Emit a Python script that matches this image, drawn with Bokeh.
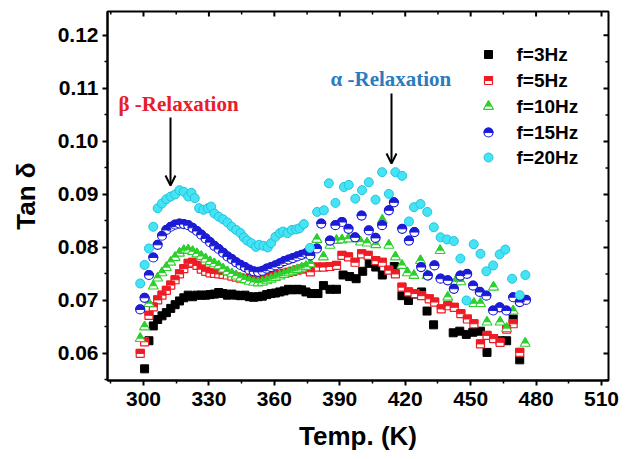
import math
from bokeh.plotting import figure
from bokeh.models import Range1d, FixedTicker, NumeralTickFormatter, Label, Arrow, OpenHead
from bokeh.core.properties import value
from bokeh.embed import file_html
from bokeh.resources import INLINE

# ---------------- data ----------------
x_ticks = [300, 330, 360, 390, 420, 450, 480, 510]
x_minor = [285, 315, 345, 375, 405, 435, 465, 495]
y_ticks = [0.06, 0.07, 0.08, 0.09, 0.10, 0.11, 0.12]
y_minor = [0.055, 0.065, 0.075, 0.085, 0.095, 0.105, 0.115]
series_labels = ["f=3Hz", "f=5Hz", "f=10Hz", "f=15Hz", "f=20Hz"]

t3 = [300.5, 302.5, 304.5, 306.5, 308.5, 310.5, 312.5, 314.5, 316.5, 318.5,
      320.5, 322.5, 324.5, 326.5, 328.5, 330.5, 332.5, 334.5, 336.5, 338.5,
      340.5, 342.5, 344.5, 346.5, 348.5, 350.5, 352.5, 354.5, 356.5, 358.5,
      360.5, 362.5, 364.5, 366.5, 368.5, 370.5, 372.5, 374.5,
      377.0, 380.0, 382.5, 385.5, 388.5, 391.5, 394.5, 397.5, 400.5, 403.5,
      406.5, 409.5, 415.0, 418.5, 421.5, 424.5, 427.5, 430.0, 433.0, 442.0,
      445.0, 448.0, 451.0, 454.5, 457.5, 463.5, 466.5, 469.5, 472.5]
v3 = [0.0571, 0.0624, 0.0652, 0.0664, 0.0671, 0.0677, 0.0685, 0.0692, 0.0699, 0.0705,
      0.0710, 0.0707, 0.0710, 0.0710, 0.0710, 0.0711, 0.0712, 0.0715, 0.0713, 0.0710,
      0.0712, 0.0710, 0.0709, 0.0710, 0.0707, 0.0706, 0.0707, 0.0708, 0.0711, 0.0713,
      0.0714, 0.0716, 0.0718, 0.0721, 0.0720, 0.0721, 0.0720, 0.0716,
      0.0713, 0.0713, 0.0728, 0.0721, 0.0721, 0.0748, 0.0745, 0.0741, 0.0755, 0.0770,
      0.0763, 0.0748, 0.0764, 0.0709, 0.0700, 0.0712, 0.0716, 0.0680, 0.0654, 0.0639,
      0.0642, 0.0636, 0.0640, 0.0642, 0.0602, 0.0624, 0.0624, 0.0665, 0.0588]

t5 = [298.5, 300.5, 302.5, 304.5, 306.5, 308.5, 310.5, 312.5, 314.5, 316.5,
      318.5, 320.5, 322.5, 324.5, 326.5, 328.5, 330.5, 332.5, 334.5, 336.5,
      338.5, 340.5, 342.5, 344.5, 346.5, 348.5, 350.5, 352.5, 354.5, 356.5,
      358.5, 360.5, 362.5, 364.5, 366.5, 368.5, 370.5, 372.5, 374.5,
      376.5, 379.5, 382.5, 385.5, 388.5, 391.0, 394.0, 397.0, 400.0, 403.0,
      406.5, 409.5, 412.5, 415.5, 418.5, 421.5, 424.5, 427.5, 431.0, 433.5,
      436.5, 439.5, 442.5, 445.5, 448.5, 451.5, 454.5, 457.5, 460.5, 463.5,
      466.5, 469.5, 472.5]
v5 = [0.0600, 0.0622, 0.0672, 0.0688, 0.0701, 0.0710, 0.0719, 0.0729, 0.0739, 0.0750,
      0.0760, 0.0770, 0.0772, 0.0766, 0.0759, 0.0755, 0.0752, 0.0751, 0.0750, 0.0749,
      0.0748, 0.0746, 0.0744, 0.0742, 0.0741, 0.0740, 0.0740, 0.0740, 0.0741, 0.0743,
      0.0745, 0.0747, 0.0749, 0.0751, 0.0753, 0.0755, 0.0757, 0.0759, 0.0761,
      0.0754, 0.0763, 0.0763, 0.0764, 0.0766, 0.0785, 0.0782, 0.0772, 0.0788, 0.0785,
      0.0775, 0.0772, 0.0757, 0.0750, 0.0725, 0.0716, 0.0713, 0.0709, 0.0703, 0.0697,
      0.0684, 0.0690, 0.0687, 0.0675, 0.0665, 0.0656, 0.0618, 0.0634, 0.0628, 0.0621,
      0.0646, 0.0656, 0.0602]

t10 = [298.5, 300.5, 302.5, 304.5, 306.5, 308.5, 310.5, 312.5, 314.5, 316.5,
       318.5, 320.5, 322.5, 324.5, 326.5, 328.5, 330.5, 332.5, 334.5, 336.5,
       338.5, 340.5, 342.5, 344.5, 346.5, 348.5, 350.5, 352.5, 354.5, 356.5,
       358.5, 360.5, 362.5, 364.5, 366.5, 368.5, 370.5, 372.5, 374.5,
       376.5, 379.5, 382.5, 385.5, 388.5, 391.0, 394.0, 399.5, 402.5, 406.5,
       409.5, 412.5, 415.5, 418.5, 421.0, 424.0, 427.0, 430.0, 436.0, 439.5,
       443.0, 445.5, 451.5, 454.5, 457.5, 460.5, 463.5, 466.5, 469.5, 475.0]
v10 = [0.0628, 0.0650, 0.0694, 0.0727, 0.0742, 0.0752, 0.0762, 0.0772, 0.0781, 0.0789,
       0.0794, 0.0795, 0.0792, 0.0788, 0.0783, 0.0778, 0.0773, 0.0769, 0.0765, 0.0759,
       0.0754, 0.0750, 0.0746, 0.0742, 0.0739, 0.0736, 0.0734, 0.0733, 0.0734, 0.0737,
       0.0740, 0.0743, 0.0746, 0.0749, 0.0752, 0.0755, 0.0758, 0.0761, 0.0764,
       0.0769, 0.0815, 0.0782, 0.0804, 0.0813, 0.0814, 0.0816, 0.0810, 0.0808, 0.0805,
       0.0851, 0.0804, 0.0782, 0.0766, 0.0752, 0.0747, 0.0775, 0.0747, 0.0794, 0.0706,
       0.0735, 0.0735, 0.0694, 0.0694, 0.0659, 0.0725, 0.0659, 0.0647, 0.0680, 0.0619]

t15 = [298.5, 300.5, 302.5, 304.5, 306.5, 308.5, 310.5, 312.5, 314.5, 316.5,
       318.5, 320.5, 322.5, 324.5, 326.5, 328.5, 330.5, 332.5, 334.5, 336.5,
       338.5, 340.5, 342.5, 344.5, 346.5, 348.5, 350.5, 352.5, 354.5, 356.5,
       358.5, 360.5, 362.5, 364.5, 366.5, 368.5, 370.5, 372.5, 374.5,
       376.5, 379.5, 381.5, 385.5, 388.0, 391.0, 394.0, 397.0, 400.0, 403.3,
       406.4, 409.4, 412.5, 414.8, 418.6, 421.7, 424.2, 427.3, 430.4, 433.4,
       436.2, 439.5, 442.3, 445.3, 448.4, 451.1, 454.2, 457.2, 460.3, 463.3,
       466.4, 469.5, 472.5, 475.4]
v15 = [0.0683, 0.0705, 0.0748, 0.0781, 0.0805, 0.0822, 0.0833, 0.0839, 0.0843, 0.0845,
       0.0844, 0.0842, 0.0837, 0.0831, 0.0824, 0.0817, 0.0810, 0.0803, 0.0797, 0.0790,
       0.0783, 0.0778, 0.0772, 0.0767, 0.0763, 0.0758, 0.0755, 0.0754, 0.0756, 0.0760,
       0.0763, 0.0766, 0.0770, 0.0774, 0.0777, 0.0780, 0.0783, 0.0786, 0.0789,
       0.0785, 0.0798, 0.0845, 0.0813, 0.0842, 0.0848, 0.0835, 0.0819, 0.0860, 0.0832,
       0.0818, 0.0842, 0.0870, 0.0885, 0.0835, 0.0813, 0.0829, 0.0763, 0.0747, 0.0766,
       0.0741, 0.0738, 0.0722, 0.0747, 0.0750, 0.0728, 0.0716, 0.0709, 0.0681, 0.0687,
       0.0681, 0.0706, 0.0697, 0.0701]

t20 = [298.5, 300.5, 302.5, 304.5, 306.5, 308.5, 310.5, 312.5, 314.5, 316.5,
       318.5, 320.5, 322.0, 323.5, 325.5, 327.5, 329.5, 331.0, 332.5, 334.5,
       336.5, 338.5, 340.5, 342.5, 344.5, 346.0, 347.5, 349.5, 351.5, 353.0,
       355.0, 357.0, 358.5, 360.5, 362.5, 364.0, 366.0, 368.0, 370.0, 371.5, 373.5,
       376.3, 379.6, 382.7, 385.0, 388.0, 391.9, 394.1, 397.1, 400.2, 403.3,
       406.4, 409.4, 412.5, 415.5, 418.6, 421.7, 424.0, 427.0, 430.1, 433.1,
       436.2, 439.2, 442.3, 445.3, 448.1, 451.4, 454.5, 457.2, 460.3, 463.3,
       465.9, 469.0, 472.5, 475.1]
v20 = [0.0732, 0.0767, 0.0798, 0.0839, 0.0874, 0.0883, 0.0891, 0.0896, 0.0900, 0.0908,
       0.0905, 0.0896, 0.0903, 0.0893, 0.0874, 0.0871, 0.0874, 0.0877, 0.0864, 0.0858,
       0.0853, 0.0847, 0.0839, 0.0833, 0.0827, 0.0819, 0.0813, 0.0808, 0.0801, 0.0805,
       0.0803, 0.0800, 0.0808, 0.0820, 0.0827, 0.0830, 0.0827, 0.0833, 0.0834, 0.0836, 0.0844,
       0.0799, 0.0867, 0.0870, 0.0921, 0.0884, 0.0914, 0.0918, 0.0892, 0.0908, 0.0923,
       0.0890, 0.0942, 0.0901, 0.0942, 0.0935, 0.0849, 0.0876, 0.0882, 0.0867, 0.0838,
       0.0819, 0.0815, 0.0812, 0.0779, 0.0700, 0.0806, 0.0788, 0.0755, 0.0766, 0.0787,
       0.0796, 0.0741, 0.0710, 0.0748]

# ---------------- layout ----------------
X0, X1 = 283.5, 513.2
Y0, Y1 = 0.0549, 0.1245
FW, FH = 501, 369
LEFT, TOP = 107, 11

BLACK = "#000000"
RED = "#ee1c25"
GREEN = "#2ccf2c"
BLUE = "#1c1cd6"
CYAN = "#45e4f4"
CYAN_LINE = "#22c3df"
SANS = "Liberation Sans"
SERIF = "Liberation Serif"


def px_x(px):
    return X0 + (px - LEFT) / FW * (X1 - X0)


def px_y(py):
    return Y1 - (py - TOP) / FH * (Y1 - Y0)


DY = (Y1 - Y0) / FH  # data units per screen pixel (vertical)
DX = (X1 - X0) / FW  # data units per screen pixel (horizontal)

p = figure(frame_width=FW, frame_height=FH,
           x_range=Range1d(X0, X1), y_range=Range1d(Y0, Y1),
           output_backend="svg", toolbar_location=None,
           min_border_left=LEFT, min_border_top=TOP,
           min_border_right=632 - LEFT - FW, min_border_bottom=459 - TOP - FH)
p.xgrid.grid_line_color = None
p.ygrid.grid_line_color = None
p.outline_line_color = BLACK
p.outline_line_width = 2
p.background_fill_color = "white"
p.border_fill_color = "white"

xt = FixedTicker(ticks=x_ticks, minor_ticks=x_minor)
yt = FixedTicker(ticks=y_ticks, minor_ticks=y_minor)


def style_axis(ax):
    ax.axis_line_width = 2
    ax.axis_line_color = BLACK
    ax.major_tick_line_width = 2
    ax.minor_tick_line_width = 1.5
    ax.major_tick_line_color = BLACK
    ax.minor_tick_line_color = BLACK
    ax.major_tick_in, ax.major_tick_out = 0, 5
    ax.minor_tick_in, ax.minor_tick_out = 0, 3
    ax.major_label_text_font = SANS
    ax.major_label_text_font_style = "bold"
    ax.major_label_text_font_size = "21px"
    ax.major_label_text_color = BLACK
    ax.axis_label_text_font = SANS
    ax.axis_label_text_font_style = "bold"
    ax.axis_label_text_font_size = "26px"
    ax.axis_label_text_color = BLACK


xa = p.xaxis[0]
xa.ticker = xt
style_axis(xa)
xa.major_label_standoff = 6
xa.axis_label = "Temp. (K)"
xa.axis_label_standoff = 12

ya = p.yaxis[0]
ya.ticker = yt
ya.formatter = NumeralTickFormatter(format="0.00")
style_axis(ya)
ya.major_label_standoff = 4
ya.axis_label = "Tan δ"
ya.axis_label_standoff = 14

# inward ticks on the top and right edges of the frame
p.segment(x0=x_ticks, y0=[Y1] * len(x_ticks), x1=x_ticks, y1=[Y1 - 5 * DY] * len(x_ticks),
          line_color=BLACK, line_width=2)
p.segment(x0=x_minor, y0=[Y1] * len(x_minor), x1=x_minor, y1=[Y1 - 3 * DY] * len(x_minor),
          line_color=BLACK, line_width=1.5)
p.segment(x0=[X1] * len(y_ticks), y0=y_ticks, x1=[X1 - 5 * DX] * len(y_ticks), y1=y_ticks,
          line_color=BLACK, line_width=2)
p.segment(x0=[X1] * len(y_minor), y0=y_minor, x1=[X1 - 3 * DX] * len(y_minor), y1=y_minor,
          line_color=BLACK, line_width=1.5)

# ---------------- markers ----------------
SQ = 8
CI = 9
TR = 10
K_TRI = 0.62


def half_square(xs, ys, color, size):
    p.scatter(xs, ys, marker="square", size=size, fill_color="white",
              line_color=color, line_width=1.2)
    p.rect(xs, [y + size / 4 * DY for y in ys], width=size, height=size / 2,
           width_units="screen", height_units="screen",
           fill_color=color, line_color=color, line_width=1)


def half_triangle(xs, ys, color, size):
    p.scatter(xs, ys, marker="triangle", size=size, fill_color="white",
              line_color=color, line_width=1.1)
    r = size / 2
    off = 1.1547 * r * (1 - K_TRI)
    p.scatter(xs, [y + off * DY for y in ys], marker="triangle", size=size * K_TRI,
              fill_color=color, line_color=color, line_width=1)


def half_circle(xs, ys, color, size):
    p.scatter(xs, ys, marker="circle", size=size, fill_color="white",
              line_color=color, line_width=1.2)
    p.wedge(xs, ys, radius=size / 2, radius_units="screen",
            start_angle=0, end_angle=math.pi,
            fill_color=color, line_color=color, line_width=1)


def full_square(xs, ys, color, size):
    p.scatter(xs, ys, marker="square", size=size, fill_color=color, line_color=color)


def ball(xs, ys, size):
    p.scatter(xs, ys, marker="circle", size=size, fill_color=CYAN,
              line_color=CYAN_LINE, line_width=1)


full_square(t3, v3, BLACK, SQ)
half_square(t5, v5, RED, SQ)
half_triangle(t10, v10, GREEN, TR)
half_circle(t15, v15, BLUE, CI)
ball(t20, v20, CI)

# ---------------- legend (drawn by hand) ----------------
leg_x = px_x(488)
leg_tx = px_x(516)
leg_rows = [54, 80, 106, 132, 157]
leg_y = [px_y(r) for r in leg_rows]
full_square([leg_x], [leg_y[0]], BLACK, SQ)
half_square([leg_x], [leg_y[1]], RED, SQ)
half_triangle([leg_x], [leg_y[2]], GREEN, TR)
half_circle([leg_x], [leg_y[3]], BLUE, CI)
ball([leg_x], [leg_y[4]], CI)
p.text(x=[leg_tx] * len(series_labels), y=leg_y, text=series_labels,
       text_font=value(SANS), text_font_style="bold", text_font_size="19px",
       text_color=BLACK, text_baseline="middle", text_align="left")

# ---------------- annotations ----------------
p.add_layout(Label(x=px_x(118), y=px_y(103), text="β -Relaxation",
                   text_font=SERIF, text_font_style="bold", text_font_size="21px",
                   text_color="#e5202a", text_baseline="middle", text_align="left"))
p.add_layout(Label(x=px_x(330), y=px_y(78), text="α -Relaxation",
                   text_font=SERIF, text_font_style="bold", text_font_size="21px",
                   text_color="#2b7bbf", text_baseline="middle", text_align="left"))
p.add_layout(Arrow(x_start=px_x(170), y_start=px_y(117), x_end=px_x(170), y_end=px_y(185),
                   line_width=2, line_color=BLACK,
                   end=OpenHead(size=10, line_width=2, line_color=BLACK)))
p.add_layout(Arrow(x_start=px_x(391), y_start=px_y(93), x_end=px_x(391), y_end=px_y(163),
                   line_width=2, line_color=BLACK,
                   end=OpenHead(size=10, line_width=2, line_color=BLACK)))

open("out.html", "w").write(file_html(p, INLINE))
